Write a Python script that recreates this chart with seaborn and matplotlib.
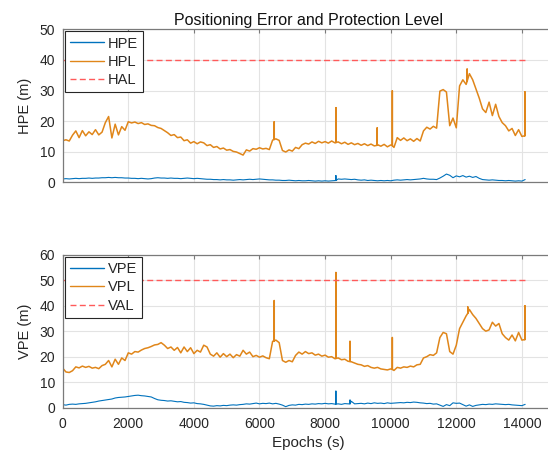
import numpy as np
import pandas as pd
import seaborn as sns
import matplotlib
matplotlib.use('Agg')
import matplotlib.pyplot as plt

# sample epochs (s), one reading every 100 s
epochs = list(range(0, 14101, 100))

# horizontal protection level (m)
hpl = [13.6, 13.9, 13.5, 15.4, 16.8, 14.6, 16.9, 15.2, 16.5, 15.6,
       17.2, 15.5, 16.4, 19.5, 21.5, 14.5, 19.0, 15.5, 18.2, 17.0,
       19.8, 19.4, 19.7, 19.2, 19.5, 18.9, 19.1, 18.6, 18.5, 17.9,
       17.6, 16.9, 16.2, 15.3, 15.6, 14.6, 14.8, 13.6, 13.9, 12.8,
       13.3, 12.6, 13.2, 12.9, 12.0, 12.3, 11.4, 11.7, 10.9, 11.2,
       10.5, 10.7, 10.1, 9.9, 9.4, 8.9, 10.6, 10.2, 11.0, 10.8,
       11.3, 10.9, 11.1, 10.7, 13.8, 14.2, 13.7, 10.4, 9.9, 10.6,
       10.2, 11.4, 11.0, 12.3, 12.8, 12.5, 13.2, 12.7, 13.4, 12.9,
       13.3, 12.8, 13.5, 12.9, 13.2, 12.6, 13.1, 12.4, 12.9, 12.3,
       12.7, 12.1, 12.6, 12.0, 12.5, 11.9, 12.3, 11.8, 12.4, 11.6,
       12.2, 11.4, 14.6, 13.7, 14.5, 13.6, 14.2, 13.4, 14.3, 13.5,
       16.8, 18.0, 17.4, 18.3, 17.7, 29.8, 30.3, 29.5, 18.5, 21.0,
       17.8, 31.5, 33.5, 32.0, 35.5, 33.5, 30.5, 27.5, 24.0, 22.8,
       26.2, 21.8, 25.5, 21.5, 19.5, 18.5, 16.8, 17.6, 15.3, 17.2,
       15.0, 15.4]

# horizontal position error (m)
hpe = [1.1, 1.2, 1.1, 1.2, 1.3, 1.2, 1.3, 1.3, 1.4, 1.3,
       1.4, 1.4, 1.5, 1.5, 1.6, 1.5, 1.6, 1.5, 1.5, 1.4,
       1.4, 1.3, 1.3, 1.2, 1.3, 1.2, 1.1, 1.2, 1.4, 1.5,
       1.4, 1.4, 1.3, 1.4, 1.3, 1.3, 1.2, 1.3, 1.4, 1.3,
       1.2, 1.3, 1.2, 1.1, 1.0, 1.0, 0.9, 0.9, 0.8, 0.9,
       0.8, 0.8, 0.7, 0.8, 0.9, 0.8, 0.9, 1.0, 0.9, 1.0,
       1.1, 1.0, 0.9, 0.8, 0.8, 0.7, 0.7, 0.6, 0.6, 0.7,
       0.6, 0.5, 0.6, 0.5, 0.5, 0.6, 0.5, 0.4, 0.5, 0.4,
       0.5, 0.4, 0.5, 0.6, 1.1, 1.0, 1.1, 1.0, 0.9, 1.0,
       0.8, 0.7, 0.8, 0.6, 0.7, 0.6, 0.5, 0.6, 0.5, 0.6,
       0.5, 0.7, 0.8, 0.7, 0.8, 0.9, 0.8, 0.9, 1.0, 1.1,
       1.3, 1.1, 1.0, 1.0, 0.9, 1.4, 2.0, 2.7, 2.3, 1.5,
       2.1, 1.8, 2.2, 1.7, 2.0, 1.6, 1.9, 1.3, 0.9, 0.8,
       0.7, 0.8, 0.7, 0.6, 0.6, 0.5, 0.6, 0.5, 0.4, 0.5,
       0.4, 0.9]

# vertical protection level (m)
vpl = [15.5, 14.0, 13.8, 14.5, 16.0, 15.6, 16.3, 15.8, 16.2, 15.5,
       15.8, 15.3, 16.5, 17.0, 18.5, 16.0, 19.0, 17.0, 19.5, 18.5,
       21.5, 21.0, 22.0, 21.8, 22.6, 23.2, 23.5, 24.0, 24.6, 24.8,
       25.5, 24.5, 23.2, 23.8, 22.5, 23.6, 21.5, 23.8, 22.0, 23.5,
       21.2, 22.5, 21.8, 24.5, 23.8, 21.0, 20.2, 21.5, 19.8, 21.2,
       20.0, 21.0, 19.6, 20.8, 20.2, 22.5, 21.0, 21.8, 20.0, 20.5,
       19.8, 20.3, 19.6, 19.2, 26.0, 26.5, 25.5, 18.5, 17.8, 18.5,
       18.0, 20.5, 21.8, 21.0, 22.0, 21.2, 21.5, 20.6, 21.0, 20.2,
       20.6, 19.8, 20.0, 19.2, 19.5, 18.8, 19.0, 18.2, 18.0, 17.5,
       17.0, 16.8, 16.2, 16.5, 15.8, 15.5, 15.8, 15.2, 15.0, 14.8,
       15.2, 14.6, 15.8, 15.5, 16.0, 15.8, 16.3, 16.0, 16.8, 17.0,
       19.5, 20.0, 20.8, 20.5, 21.5, 27.5, 29.5, 29.0, 22.0, 21.0,
       24.5, 31.0, 33.5, 36.0, 38.5, 36.5, 35.0, 33.0, 31.0, 30.0,
       30.5, 33.5, 32.0, 33.0, 29.0, 27.5, 26.5, 28.5, 26.2, 29.5,
       26.5, 26.8]

# vertical position error (m)
vpe = [1.2, 1.0, 1.3, 1.4, 1.3, 1.5, 1.6, 1.7, 1.9, 2.1,
       2.3, 2.6, 2.8, 3.0, 3.2, 3.4, 3.8, 4.0, 4.1, 4.2,
       4.4, 4.6, 4.8, 4.9, 4.7, 4.6, 4.4, 4.2, 3.6, 3.1,
       2.9, 2.8, 2.6, 2.7, 2.5, 2.3, 2.4, 2.1, 2.0, 1.8,
       1.9, 1.6, 1.5, 1.3, 1.0, 0.7, 0.6, 0.8, 0.7, 0.9,
       0.8, 1.0, 1.1, 1.0, 1.2, 1.3, 1.5, 1.4, 1.6, 1.8,
       1.5, 1.7, 1.6, 1.8, 1.5, 1.7, 1.4, 1.0, 0.4, 0.9,
       1.1, 1.0, 1.3, 1.2, 1.4, 1.3, 1.5, 1.4, 1.6, 1.5,
       1.7, 1.5, 1.6, 1.4, 1.5, 1.3, 1.6, 1.5, 2.5, 1.5,
       1.6, 1.7, 1.5, 1.8, 1.6, 1.9, 1.7, 1.8, 1.6, 1.9,
       1.7, 1.8, 1.9, 2.0, 1.9, 2.1, 2.0, 2.2, 2.1, 1.9,
       1.8, 1.6, 1.7, 1.4, 1.5, 1.0, 0.5, 1.2, 0.8, 1.9,
       1.7, 1.8, 1.2, 0.6, 1.1, 0.5, 0.9, 1.1, 1.3, 1.2,
       1.4, 1.3, 1.5, 1.4, 1.3, 1.2, 1.3, 1.1, 1.0, 0.9,
       0.8, 1.3]

# single-epoch spikes: epoch, level just before, peak
hpl_spike_epochs = [6450, 8330, 9590, 10050, 12330, 14090]
hpl_spike_base = [14.0, 13.0, 12.1, 12.0, 33.0, 15.2]
hpl_spikes = [19.8, 24.4, 17.8, 29.9, 37.0, 29.6]
hpe_spike_epochs = [8330]
hpe_spike_base = [0.6]
hpe_spikes = [2.2]
vpl_spike_epochs = [6450, 8330, 8760, 10050, 12350, 14090]
vpl_spike_base = [26.2, 19.3, 18.1, 15.0, 37.0, 26.7]
vpl_spikes = [42.0, 53.0, 26.0, 27.5, 39.5, 40.0]
vpe_spike_epochs = [8330, 8760]
vpe_spike_base = [1.4, 1.5]
vpe_spikes = [6.5, 3.0]

# alert limits (m)
hal = 40
val = 50
limit_epochs = [0, 14100]

BLUE = '#0072BD'
ORANGE = '#E0861A'
RED = '#FF5A5A'
AXC = '#262626'


def series(values, sp_epochs, sp_base, sp_values):
    base = pd.DataFrame({'epoch': epochs, 'value': values})
    rows = []
    for e, b, p in zip(sp_epochs, sp_base, sp_values):
        rows += [(e, b), (e, p), (e, b)]
    peaks = pd.DataFrame(rows, columns=['epoch', 'value'])
    df = pd.concat([base, peaks], ignore_index=True)
    return df.sort_values('epoch', kind='stable').reset_index(drop=True)


sns.set_theme(style='white')
plt.rcParams['font.family'] = ['Liberation Sans', 'DejaVu Sans']

fig = plt.figure(figsize=(5.48, 4.55), dpi=100)
ax1 = fig.add_axes([0.1144, 0.5993, 0.8978, 0.3363])
ax2 = fig.add_axes([0.1144, 0.1040, 0.8978, 0.3363])

panels = [
    (ax1, series(hpe, hpe_spike_epochs, hpe_spike_base, hpe_spikes),
     series(hpl, hpl_spike_epochs, hpl_spike_base, hpl_spikes),
     hal, ('HPE', 'HPL', 'HAL'), 50),
    (ax2, series(vpe, vpe_spike_epochs, vpe_spike_base, vpe_spikes),
     series(vpl, vpl_spike_epochs, vpl_spike_base, vpl_spikes),
     val, ('VPE', 'VPL', 'VAL'), 60),
]

for ax, err_df, lvl_df, lim, names, ymax in panels:
    # sort=False keeps the up-and-down order of the spike points
    sns.lineplot(data=err_df, x='epoch', y='value', ax=ax, color=BLUE, lw=0.8,
                 label=names[0], estimator=None, sort=False)
    sns.lineplot(data=lvl_df, x='epoch', y='value', ax=ax, color=ORANGE, lw=1.1,
                 label=names[1], estimator=None, sort=False)
    lim_df = pd.DataFrame({'epoch': limit_epochs, 'value': [lim] * len(limit_epochs)})
    sns.lineplot(data=lim_df, x='epoch', y='value', ax=ax, color=RED, lw=1.0,
                 linestyle=(0, (4.3, 2.4)), label=names[2], estimator=None)

    ax.set_xlim(0, 15000)
    ax.set_ylim(0, ymax)
    ax.set_xticks(np.arange(0, 14001, 2000))
    ax.set_yticks(np.arange(0, ymax + 1, 10))
    ax.grid(True, color='#E3E3E3', lw=0.8)
    ax.set_axisbelow(True)
    for sp in ax.spines.values():
        sp.set_color('#7A7A7A')
        sp.set_linewidth(0.9)
    ax.tick_params(direction='in', length=3, width=0.8, color='#7A7A7A',
                   top=True, right=True, labelsize=10, labelcolor=AXC)
    ax.tick_params(axis='x', pad=7)
    ax.tick_params(axis='y', pad=5.5)
    ax.set_ylabel(names[0] + ' (m)', fontsize=10.5, color=AXC, labelpad=5)
    ax.set_xlabel('')
    leg = ax.legend(loc='upper left', fontsize=10.5, fancybox=False, framealpha=1,
                    edgecolor=AXC, borderaxespad=0.15, borderpad=0.35,
                    handlelength=2.3, handletextpad=0.3, labelspacing=0.3)
    leg.get_frame().set_linewidth(0.8)
    for h in leg.get_lines():
        h.set_linewidth(1.0)

ax1.tick_params(axis='x', labelbottom=False)
ax1.set_title('Positioning Error and Protection Level', fontsize=11.5,
              color='#111111', pad=3)
ax2.set_xlabel('Epochs (s)', fontsize=11, color=AXC, labelpad=3)

fig.savefig('out.png', dpi=100)
